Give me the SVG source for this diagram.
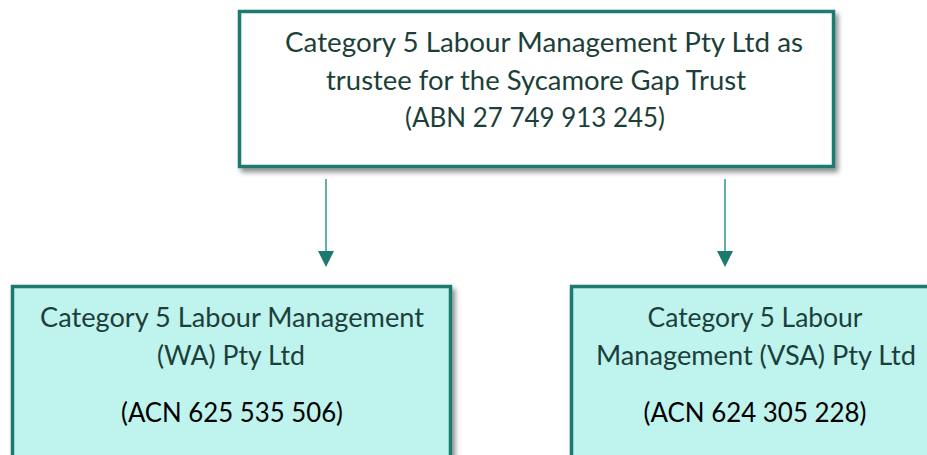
<svg xmlns="http://www.w3.org/2000/svg" width="927" height="455" viewBox="0 0 927 455">
<style>
.box{stroke:#1b7a6e;stroke-width:3.5}
.top{fill:#ffffff}
.sub{fill:#bff3ee}
text{font-family:Lato,"Open Sans","Liberation Sans",sans-serif;font-size:26px;text-anchor:middle}
.t{fill:#1c3f3a}
.k{fill:#000000}
.conn{stroke:#3d9a90;stroke-width:1.6;fill:none}
</style>
<defs>
<filter id="sh" x="-5%" y="-10%" width="115%" height="130%">
<feDropShadow dx="3" dy="4" stdDeviation="2.5" flood-color="#000" flood-opacity="0.45"/>
</filter>
</defs>
<g id="connectors">
<line class="conn" x1="326" y1="179" x2="326" y2="251"/>
<path d="M318,251 L334,251 L326,267 Z" fill="#1b7a6e"/>
<line class="conn" x1="725" y1="179" x2="725" y2="251"/>
<path d="M717,251 L733,251 L725,267 Z" fill="#1b7a6e"/>
</g>
<g id="node-trustee">
<rect class="box top" x="239.5" y="11.5" width="594" height="155" filter="url(#sh)"/>
<text class="t" x="544" y="52" textLength="518" lengthAdjust="spacingAndGlyphs">Category 5 Labour Management Pty Ltd as</text>
<text class="t" x="536" y="90" textLength="420" lengthAdjust="spacingAndGlyphs">trustee for the Sycamore Gap Trust</text>
<text class="t" x="535" y="127" textLength="260" lengthAdjust="spacingAndGlyphs">(ABN 27 749 913 245)</text>
</g>
<g id="node-wa">
<rect class="box sub" x="12.5" y="286.5" width="438" height="200" filter="url(#sh)"/>
<text class="t" x="232" y="327" textLength="384" lengthAdjust="spacingAndGlyphs">Category 5 Labour Management</text>
<text class="t" x="231" y="365" textLength="148" lengthAdjust="spacingAndGlyphs">(WA) Pty Ltd</text>
<text class="k" x="232" y="422" textLength="222" lengthAdjust="spacingAndGlyphs">(ACN 625 535 506)</text>
</g>
<g id="node-vsa">
<rect class="box sub" x="571.5" y="286.5" width="380" height="200" filter="url(#sh)"/>
<text class="t" x="755" y="327" textLength="215" lengthAdjust="spacingAndGlyphs">Category 5 Labour</text>
<text class="t" x="756" y="365" textLength="320" lengthAdjust="spacingAndGlyphs">Management (VSA) Pty Ltd</text>
<text class="k" x="755" y="422" textLength="223" lengthAdjust="spacingAndGlyphs">(ACN 624 305 228)</text>
</g>
</svg>
